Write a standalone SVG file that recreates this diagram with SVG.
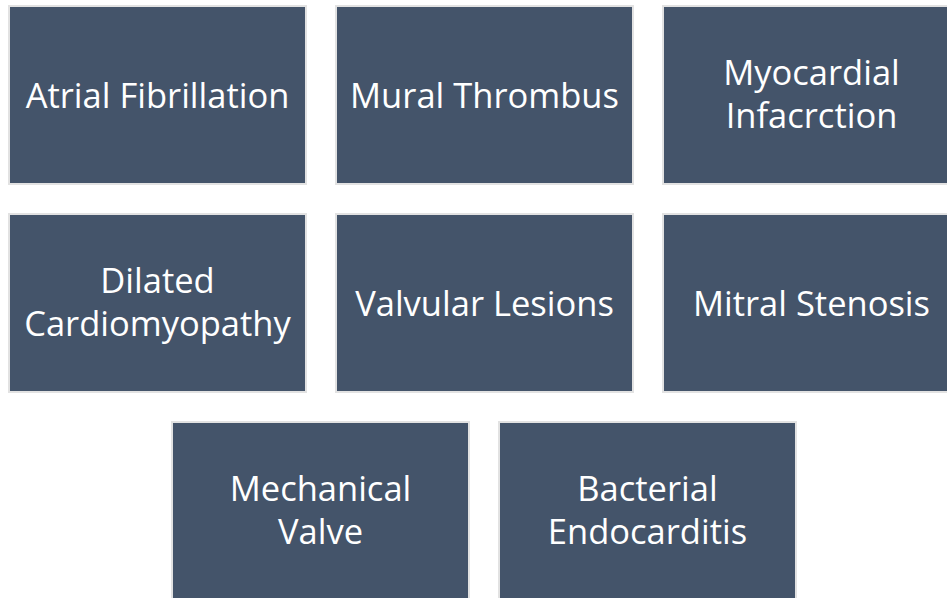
<svg xmlns="http://www.w3.org/2000/svg" width="947" height="598" viewBox="0 0 947 598">
  <style>
    .box { fill: #44546A; stroke: #E2E2E2; stroke-width: 2; }
    .lbl { fill: #FFFFFF; font-family: "Open Sans", "Liberation Sans", sans-serif; font-size: 34.5px; text-anchor: middle; font-variant-ligatures: none; }
  </style>
  <rect width="947" height="598" fill="#FFFFFF"/>
  <g id="connectors"/>

  <!-- Row 1 -->
  <g id="atrial-fibrillation">
    <rect class="box" x="9" y="6" width="297" height="178"/>
    <text class="lbl" x="157.5" y="107.5">Atrial Fibrillation</text>
  </g>
  <g id="mural-thrombus">
    <rect class="box" x="336" y="6" width="297" height="178"/>
    <text class="lbl" x="484.5" y="107.5">Mural Thrombus</text>
  </g>
  <g id="myocardial-infarction">
    <rect class="box" x="663" y="6" width="297" height="178"/>
    <text class="lbl" x="811.5" y="85">Myocardial</text>
    <text class="lbl" x="811.5" y="128">Infacrction</text>
  </g>

  <!-- Row 2 -->
  <g id="dilated-cardiomyopathy">
    <rect class="box" x="9" y="214" width="297" height="178"/>
    <text class="lbl" x="157.5" y="293">Dilated</text>
    <text class="lbl" x="157.5" y="336">Cardiomyopathy</text>
  </g>
  <g id="valvular-lesions">
    <rect class="box" x="336" y="214" width="297" height="178"/>
    <text class="lbl" x="484.5" y="315.5">Valvular Lesions</text>
  </g>
  <g id="mitral-stenosis">
    <rect class="box" x="663" y="214" width="297" height="178"/>
    <text class="lbl" x="811.5" y="315.5">Mitral Stenosis</text>
  </g>

  <!-- Row 3 -->
  <g id="mechanical-valve">
    <rect class="box" x="172" y="422" width="297" height="178"/>
    <text class="lbl" x="320.5" y="501">Mechanical</text>
    <text class="lbl" x="320.5" y="544">Valve</text>
  </g>
  <g id="bacterial-endocarditis">
    <rect class="box" x="499" y="422" width="297" height="178"/>
    <text class="lbl" x="647.5" y="501">Bacterial</text>
    <text class="lbl" x="647.5" y="544">Endocarditis</text>
  </g>
</svg>
